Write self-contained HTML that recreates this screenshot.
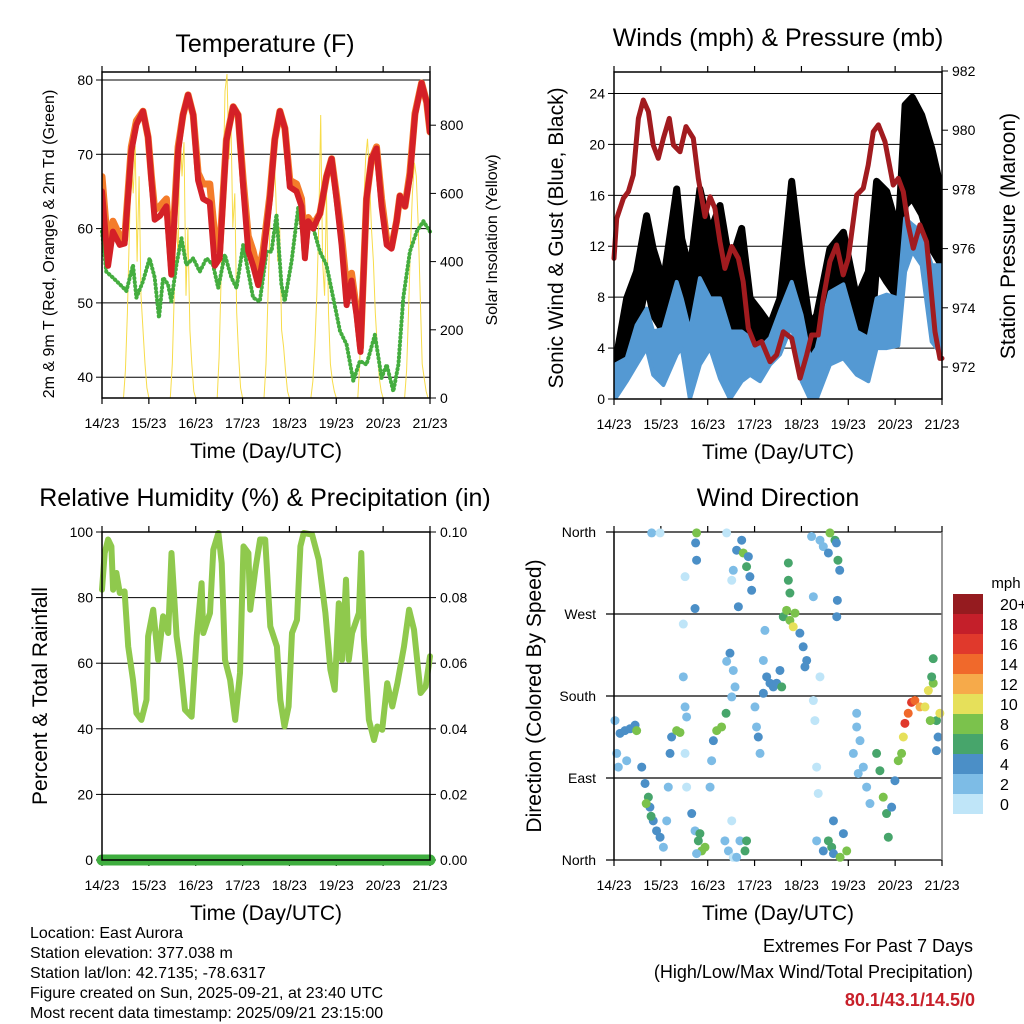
<!DOCTYPE html>
<html><head><meta charset="utf-8"><title>Station Meteogram</title>
<style>
html,body{margin:0;padding:0;background:#fff;}
svg{display:block;font-family:"Liberation Sans",Arial,sans-serif;}
</style></head>
<body>
<svg id="chart" width="1024" height="1024" viewBox="0 0 1024 1024" xmlns="http://www.w3.org/2000/svg">
<rect x="0" y="0" width="1024" height="1024" fill="#fff"/>
</svg>
<script>
// ---------- shared ----------
const dayLabels = ["14/23","15/23","16/23","17/23","18/23","19/23","20/23","21/23"];
// ---------- temperature ----------
const tHours = [0,3.1,5.6,9.1,11.6,15,17.6,21,23.6,25.3,27,29.6,33,35.5,39,41.5,44.1,46.7,49.2,51.8,55.2,57.8,60.3,63.7,67.2,69.7,72.3,74.9,77.4,80,82.5,86,88.5,91.1,93.7,96.2,99.6,102.2,103.9,105.6,108.2,111.6,115,117.6,120.1,122.7,125.3,127.8,130.4,132.4,135.5,138.1,140.6,143.2,145.8,148.3,150.9,152.6,155.2,157.7,160.3,163.7,166.3,168];
const tRed = [65,55,59.6,57.8,58,70.4,74,75.8,72.3,66.5,61.2,61.7,63,53.8,70.4,75.3,78,75.3,66.5,64,63.5,55,56,71.8,76.4,75.3,65.6,57,55,52.4,56,64,72,75.8,73.5,65.6,65,63,56,61,60,62,67,69.4,64,57.8,49.7,53,48.3,43.4,64,69.4,70.8,63,57.8,57.3,61,64.4,63,67,75.3,79.6,77,73];
const tOrange = [67,57,61,59,58.5,71,74.5,75.8,72.3,67,62.5,63,64,55,71,75.3,78,75.3,67.5,66,66,59,57,72,76.4,75.3,66.5,59,57,54,57,64.5,72,75.8,73.5,66.5,66,64,57,61.5,60.5,62,67,69.4,64.5,59,52,54,49,44,64,69.4,71,64,58.5,57.5,61,64.4,63,67.5,75.5,79.6,77,73];
const tdHours = [0,2.2,5.6,9.1,12.5,15.9,17.6,21,24.4,27,29.2,31.3,33.8,35.5,38.1,40.7,43.2,46.7,50.1,53.5,56.9,59.5,62.9,66.3,68.9,72.3,74.9,77.4,80.8,84.3,86.8,89.4,91.9,93.6,97.1,100.5,103,105.6,108.2,111.6,115,118.4,121.9,125.3,128.7,132.1,135.5,139.8,143.2,145.8,149.2,151.8,154.3,157.7,161.2,164.6,168];
const tDew = [59.6,54.2,53.4,52.5,51.6,55.1,50.7,52.9,56,53.4,48,53.4,52.5,50.2,55.1,58.7,55.1,56,54.2,56,55.1,52,56.5,53.4,52,57.8,54.2,50.7,50.2,56.9,56.9,61.9,52.5,50.2,55.6,62.8,58.7,61,60.1,56.9,55.1,50.7,46.2,44.4,39.5,42.2,41.7,45.7,39.9,41.7,38.1,41.7,50.7,56.9,59.6,61,59.6];
const solar = [
0,0,0,0,0,0,0,0,0,0,0, 0,80,250,480,700,600,740,400,650,300,200,100,30,
0,0,0,0,0,0,0,0,0,0,0, 0,100,300,550,400,800,650,750,300,500,200,100,20,
0,0,0,0,0,0,0,0,0,0,0, 0,120,350,600,900,950,700,820,500,600,250,120,30,
0,0,0,0,0,0,0,0,0,0,0, 0,100,300,500,700,730,600,400,500,200,150,80,20,
0,0,0,0,0,0,0,0,0,0,0, 0,50,150,300,500,830,400,300,600,250,100,50,20,
0,0,0,0,0,0,0,0,0,0,0, 0,100,300,550,700,760,650,500,400,250,150,60,20,
0,0,0,0,0,0,0,0,0,0,0, 0,80,250,450,600,690,650,500,300,100,60,20,0,
0];
const tempTicks = [40,50,60,70,80];
const solarTicks = [0,200,400,600,800];
// ---------- winds ----------
const wHours = [0.5,6.5,11.6,16.7,20.1,25.3,32.1,34.7,38.9,44.0,49.2,54.3,59.4,65.4,69.7,74.8,79.9,85.0,91.0,96.1,100.4,103.8,110.6,117.5,124.3,130.3,134.5,139.7,145.6,149.1,152.8,157.6,162.7,167.8];
const windHi = [2.7,3.2,5.8,7.1,5.3,5.5,9.2,7.9,5.3,9.5,7.9,7.9,5.3,5.3,4.8,4.0,4.8,6.9,9.2,6.6,3.2,4.0,8.4,9.0,5.3,4.8,7.9,8.2,7.9,14.2,13.7,13.1,10.5,10.5];
const windLo = [0,1.4,2.7,4,1.9,1.1,3.5,4,0,2.7,4,1.6,0,1.4,1.9,1.4,2.7,3.5,5.8,1.4,0,0,2.7,3.2,1.9,1.4,4,4,4.2,10,11.6,10.5,4.5,3.5];
const gustHi = [2.7,7.9,10,14.4,11.8,9.2,16.5,12.6,10,16.5,13.1,15.2,10.5,13.4,7.9,6.9,5.8,7.9,17.1,10.5,5.8,6.6,11.8,13.1,7.9,10,17.1,16.3,13.1,23.1,23.7,22.3,19.7,16.3];
const gustLo = [0.6,4,5.3,9.2,6.6,5.3,7.9,6.6,2.7,9.2,7.4,6.6,2.7,4,2.1,2.7,3.5,5.3,10.5,5.3,1.4,3.2,7.4,7.9,2.7,2.1,10.5,9.2,7.9,15.2,15.8,14.5,11.8,10.5];
const pHours = [0,1.4,4.8,7.3,9.9,12.5,15,17.6,20.1,22.7,25.3,28.3,30.4,33.8,36.9,40.6,43.2,46.6,49.2,51.7,54.3,56.8,60.3,63.7,66.2,68.8,72.2,75.6,79.9,83.3,86.7,91,95.3,98.7,101.2,104.6,107.2,110.6,114,117.4,120,124.3,127.7,130.2,132.8,135.4,138.8,143,145.6,148.2,150.7,153.3,156.7,160.1,164.4,166.9,168];
const pressure = [975.67,977.02,977.70,977.92,978.49,980.40,981.02,980.63,979.50,979.05,979.73,980.40,979.50,979.27,980.12,979.73,978.37,977.08,977.75,977.36,976.23,975.33,976.07,975.67,974.88,973.31,972.74,972.86,972.18,972.41,973.19,972.97,971.62,972.41,973.08,973.08,974.32,975.56,976.12,975.11,975.67,977.81,978.04,978.82,979.95,980.18,979.61,978.15,978.37,977.92,976.80,976.01,976.80,976.23,973.19,972.29,972.29];
const windTicks = [0,4,8,12,16,20,24];
const presTicks = [972,974,976,978,980,982];
// ---------- humidity ----------
const rhHours = [0,1.4,3.1,4.8,5.7,7.4,9.1,11.6,13.4,15.9,17.6,20.2,22.8,23.6,26.2,28.8,31.3,33.9,35.6,38.2,39.9,42.5,45.9,48.5,51,51.9,55.3,57,59.6,61.3,63,65.6,68.2,70.7,72.5,75,75.9,78.5,81,83.6,86.2,89.6,91.3,93.5,95.6,97.3,99.9,101.6,103.3,107.6,111,114.4,117,119.2,121.3,123,125,126.4,128.1,131.6,132.8,134.1,136.7,139.3,141,143.5,146.1,148.7,151.3,154.7,157.3,159.8,163.2,165.8,168];
const rh = [82.4,93.6,97.7,95.6,82.4,87.5,81.4,81.9,65.1,54.9,44.8,42.7,48.8,68.2,76.3,61,74.3,69.2,93.6,68.2,61,45.8,43.7,68.2,84.4,69.2,75.3,94.6,99.7,90.5,61,54.9,42.7,57,95.6,93.6,76.3,88.5,97.7,97.7,71.2,65.1,48.8,40.7,46.8,69.2,73.2,95.6,99.7,99.2,91.6,75.3,58,51.9,78.3,61,85.5,61,69.2,75.3,93.6,68.2,42.7,36.6,40.7,39.7,53.9,46.8,53.9,65.1,76.3,70.2,50.9,52.9,62.1];
const precipHours = [0,168];
const precip = [0,0];
const rhTicks = [0,20,40,60,80,100];
const precipTicks = ["0.00","0.02","0.04","0.06","0.08","0.10"];
// ---------- wind direction ----------
const dirHours = [0.5,3.1,5.6,8.2,10.8,1.4,2.2,6.5,11.6,14.2,15.9,17.6,18.4,20.1,21.8,23.6,25.3,16.5,19.0,19.3,23.6,
27,27.8,28.7,29.5,32.1,33.8,35.5,36.4,37.2,36.4,37.2,35.5,36.4,39.8,41.5,43.2,44.9,46.6,42.3,44,42.3,41.8,42.3,41.5,49.2,50,50.9,52.6,55.1,57.4,57.7,
56.8,58.6,61.1,60.3,57.7,62.8,65.4,66.2,67.9,69.6,70.5,68.8,61.1,60.3,63.7,59.4,61.1,62,60.3,64.5,67.1,67.9,62.8,
72.2,73,73.9,74.8,76.5,78.2,79.9,81.6,83.3,85,85.9,77.3,76.5,86.7,88.4,90.1,91.8,92.7,89.3,89.3,90.1,95.2,96.9,98.7,97.8,
101.2,102.1,102.1,102.9,103.8,104.6,105.5,105.5,107.2,109.8,110.6,113.2,113.9,114.7,115.6,114.4,114.1,103.8,107.2,109.8,111.5,112.4,115.8,119.2,117.5,112.4,
122.6,124.3,126,127.7,129.4,131.1,125.1,124.3,134.5,136.2,137.9,139.6,140.5,142.2,143.9,
145.6,147.3,148.2,149,150.7,152.4,154.1,156.7,159.3,161,163.5,162.7,163.5,165.2,166.9,166,165.2,162];
const dirDeg = [153,139,142,144,148,117,102,109,142,102,84,69,58,43,32,25,14,62,48,359,359,
43,80,117,135,142,140,201,168,157,117,80,259,311,51,32,21,10,14,7,29,359,348,329,276,80,109,131,142,146,161,218,
21,10,3,43,359,340,351,337,322,311,296,333,318,307,278,227,208,190,179,21,10,21,3,
168,146,135,117,183,201,194,190,194,208,190,252,219,267,274,263,256,271,307,326,293,249,234,219,212,
355,289,175,153,102,73,201,351,344,337,359,351,348,329,318,285,267,21,10,21,14,7,3,10,29,43,
117,146,131,102,80,62,95,161,117,98,69,51,25,58,87,
109,117,135,150,161,173,175,168,168,186,194,201,221,153,161,135,120,153];
const dirSpd = [3,5,5,5,5,3,3,3,9,5,5,7,5,5,5,5,3,9,7,3,1,
3,3,5,5,9,9,3,3,3,1,1,1,1,5,3,7,9,9,3,7,9,5,5,5,3,3,5,9,9,7,3,
3,3,1,1,1,5,5,9,7,5,5,5,3,1,5,5,3,3,3,3,7,7,3,
3,3,5,3,5,5,5,5,5,5,7,3,3,7,9,9,11,9,7,7,7,5,5,5,5,
3,3,1,1,1,1,1,3,3,5,9,7,5,7,5,5,5,3,5,7,7,5,9,9,5,5,
3,3,3,3,3,3,3,3,7,7,9,7,7,5,5,
9,9,11,17,15,17,15,13,11,11,9,7,7,7,11,5,5,9];
const speedLabels = ["0","2","4","6","8","10","12","14","16","18","20+"];
const speedColors = ["#bfe5f8","#7dbce6","#4b8fc7","#47a56b","#7bc24c","#e6e05a","#f6aa4a","#f0692b","#e0392c","#c41f2a","#951b1f"];
const dirTicks = [0,90,180,270,360];
const dirLabels = ["North","East","South","West","North"];

// ---------- helpers ----------
const NS = "http://www.w3.org/2000/svg";
const svg = document.getElementById('chart');
function mk(tag, attrs, parent){
  const e = document.createElementNS(NS, tag);
  for (const k in attrs) e.setAttribute(k, attrs[k]);
  (parent||svg).appendChild(e);
  return e;
}
function txt(str, x, y, size, anchor, parent, extra){
  const t = mk('text', Object.assign({x:x, y:y, 'font-size':size, 'text-anchor':anchor||'middle', fill:'#000'}, extra||{}), parent);
  t.textContent = str;
  return t;
}
function ptsStr(xs, ys){ return xs.map((v,i)=>v.toFixed(1)+','+ys[i].toFixed(1)).join(' '); }

const L0 = 102, R0 = 614, PW = 328;
const xL = h => L0 + h*PW/168;
const xR = h => R0 + h*PW/168;
const yTemp = v => 398 - (v-37.2)*7.43;
const ySolar = w => 398 - w*0.341;
const yWind = m => 399 - m*12.73;
const yPres = p => 71 + (982-p)*29.6;
const yRH = v => 860 - v*3.28;
const yPrecip = p => 860 - p*3280;
const yDir = d => 860 - d*328/360;

function frame(x0, y0, y1, name){
  const g = mk('g', {});
  
  
  const xt = mk('g', {}, g);
  
  
  dayLabels.forEach((lab,i)=>{
    const x = x0 + i*PW/7;
    mk('line',{x1:x,x2:x,y1:y1,y2:y1+6,stroke:'#000','stroke-width':1.2},xt);
    mk('line',{x1:x,x2:x,y1:y0,y2:y0-6,stroke:'#000','stroke-width':1.2},xt);
    const t = txt(lab, x, y1+30, 14, 'middle', xt);
    
    
  });
  const tt = txt('Time (Day/UTC)', x0+PW/2, y1+60, 21, 'middle', g);
  
  
  return g;
}
function box(x0,y0,y1,parent){
  mk('rect',{x:x0,y:y0,width:PW,height:y1-y0,fill:'none',stroke:'#000','stroke-width':1.5},parent);
}

// ================= Panel 1: Temperature =================
(function(){
  const g = frame(L0, 72, 398, 'temperature');
  tempTicks.forEach(v=>{
    const y = yTemp(v);
    mk('line',{x1:L0,x2:L0+PW,y1:y,y2:y,stroke:'#000','stroke-width':1},g);
    mk('line',{x1:L0-6,x2:L0,y1:y,y2:y,stroke:'#000','stroke-width':1},g);
    const t = txt(String(v), L0-9, y+5, 14, 'end', g);
    
    
  });
  solarTicks.forEach(v=>{
    const y = ySolar(v);
    mk('line',{x1:L0+PW,x2:L0+PW+6,y1:y,y2:y,stroke:'#000','stroke-width':1},g);
    const t = txt(String(v), L0+PW+10, y+5, 14, 'start', g);
    
    
  });
  const clip = mk('clipPath',{id:'c1'});
  mk('rect',{x:L0,y:72,width:PW,height:326},clip);
  const sol = mk('polyline',{points:ptsStr(solar.map((v,i)=>xL(i)), solar.map(ySolar)),fill:'none',stroke:'#f7dc4a','stroke-width':1,'clip-path':'url(#c1)'},g);
  
  
  const dew = mk('polyline',{points:ptsStr(tdHours.map(xL), tDew.map(yTemp)),fill:'none',stroke:'#44ad3f','stroke-width':4,'stroke-linecap':'round','stroke-linejoin':'round','stroke-dasharray':'0.5 3.5'},g);
  
  
  const or = mk('polyline',{points:ptsStr(tHours.map(xL), tOrange.map(yTemp)),fill:'none',stroke:'#f47c2a','stroke-width':7,'stroke-linejoin':'round','stroke-linecap':'round','clip-path':'url(#c1)'},g);
  
  
  const rd = mk('polyline',{points:ptsStr(tHours.map(xL), tRed.map(yTemp)),fill:'none',stroke:'#d42027','stroke-width':6,'stroke-linejoin':'round','stroke-linecap':'round','clip-path':'url(#c1)'},g);
  
  
  box(L0,72,398,g);
  const t1 = txt('Temperature (F)', L0+PW/2-1, 52, 25, 'middle', g);
  
  
  const yl = txt('2m & 9m T (Red, Orange) & 2m Td (Green)', 0, 0, 16, 'middle', g, {transform:'translate(54,244) rotate(-90)'});
  
  
  const yr = txt('Solar Insolation (Yellow)', 0, 0, 16, 'middle', g, {transform:'translate(497,240) rotate(-90)'});
  
  
})();

// ================= Panel 2: Winds & Pressure =================
(function(){
  const g = frame(R0, 72, 399, 'winds');
  windTicks.forEach(v=>{
    const y = yWind(v);
    if (v>0) mk('line',{x1:R0,x2:R0+PW,y1:y,y2:y,stroke:'#000','stroke-width':1},g);
    mk('line',{x1:R0-6,x2:R0,y1:y,y2:y,stroke:'#000','stroke-width':1},g);
    const t = txt(String(v), R0-9, y+5, 14, 'end', g);
    
    
  });
  presTicks.forEach(v=>{
    const y = yPres(v);
    mk('line',{x1:R0+PW,x2:R0+PW+6,y1:y,y2:y,stroke:'#000','stroke-width':1},g);
    const t = txt(String(v), R0+PW+10, y+5, 14, 'start', g);
    
    
  });
  const clip = mk('clipPath',{id:'c2'});
  mk('rect',{x:R0,y:72,width:PW,height:327},clip);
  const gustPts = ptsStr(wHours.map(xR).concat(wHours.map(xR).reverse()), gustHi.map(yWind).concat(gustLo.map(yWind).reverse()));
  const gu = mk('polygon',{points:gustPts,fill:'#000',stroke:'#000','stroke-width':7,'stroke-linejoin':'round','clip-path':'url(#c2)'},g);
  
  
  const windPts = ptsStr(wHours.map(xR).concat(wHours.map(xR).reverse()), windHi.map(yWind).concat(windLo.map(yWind).reverse()));
  const wi = mk('polygon',{points:windPts,fill:'#5499d3',stroke:'#5499d3','stroke-width':4,'stroke-linejoin':'round','clip-path':'url(#c2)'},g);
  
  
  const pr = mk('polyline',{points:ptsStr(pHours.map(xR), pressure.map(yPres)),fill:'none',stroke:'#a11b1f','stroke-width':5,'stroke-linejoin':'round','stroke-linecap':'round'},g);
  
  
  box(R0,72,399,g);
  const t1 = txt('Winds (mph) & Pressure (mb)', R0+PW/2, 46, 25, 'middle', g);
  
  
  const yl = txt('Sonic Wind & Gust (Blue, Black)', 0, 0, 21, 'middle', g, {transform:'translate(563,238) rotate(-90)'});
  
  
  const yr = txt('Station Pressure (Maroon)', 0, 0, 21, 'middle', g, {transform:'translate(1015,236) rotate(-90)'});
  
  
})();

// ================= Panel 3: RH & Precip =================
(function(){
  const g = frame(L0, 532, 860, 'humidity');
  rhTicks.forEach((v,i)=>{
    const y = yRH(v);
    if (v>0 && v<100) mk('line',{x1:L0,x2:L0+PW,y1:y,y2:y,stroke:'#000','stroke-width':1},g);
    mk('line',{x1:L0-6,x2:L0,y1:y,y2:y,stroke:'#000','stroke-width':1},g);
    mk('line',{x1:L0+PW,x2:L0+PW+6,y1:y,y2:y,stroke:'#000','stroke-width':1},g);
    const t = txt(String(v), L0-9, y+5, 14, 'end', g);
    
    
    const t2 = txt(precipTicks[i], L0+PW+10, y+5, 14, 'start', g);
    
    
  });
  const rl = mk('polyline',{points:ptsStr(rhHours.map(xL), rh.map(yRH)),fill:'none',stroke:'#8fc94d','stroke-width':6,'stroke-linejoin':'round','stroke-linecap':'round'},g);
  
  
  const pl = mk('polyline',{points:ptsStr(precipHours.map(xL), precip.map(yPrecip)),fill:'none',stroke:'#3fae3f','stroke-width':11,'stroke-linecap':'round'},g);
  
  
  box(L0,532,860,g);
  const t1 = txt('Relative Humidity (%) & Precipitation (in)', L0+PW/2-1, 506, 25, 'middle', g);
  
  
  const yl = txt('Percent & Total Rainfall', 0, 0, 21, 'middle', g, {transform:'translate(47,696) rotate(-90)'});
  
  
})();

// ================= Panel 4: Wind Direction =================
(function(){
  const g = frame(R0, 532, 860, 'wind-direction');
  dirTicks.forEach((v,i)=>{
    const y = yDir(v);
    mk('line',{x1:R0-8,x2:R0+PW,y1:y,y2:y,stroke:'#000','stroke-width':1.2},g);
    const t = txt(dirLabels[i], R0-18, y+5, 14, 'end', g);
    
    
  });
  const dots = mk('g',{},g);
  
  
  dirHours.forEach((h,i)=>{
    const idx = Math.min(10, Math.floor(dirSpd[i]/2));
    const c = mk('circle',{cx:xR(h),cy:yDir(dirDeg[i]),r:4.5,fill:speedColors[idx]},dots);
    
    
  });
  mk('line',{x1:R0,x2:R0,y1:532,y2:860,stroke:'#000','stroke-width':1.5},g);
  mk('line',{x1:R0+PW,x2:R0+PW,y1:532,y2:860,stroke:'#777','stroke-width':1.5},g);
  const t1 = txt('Wind Direction', R0+PW/2, 506, 25, 'middle', g);
  
  
  const yl = txt('Direction (Colored By Speed)', 0, 0, 21, 'middle', g, {transform:'translate(541,696) rotate(-90)'});
  
  
  const cb = mk('g',{},svg);
  
  
  const ct = txt('mph', 1006, 588, 15, 'middle', cb);
  
  
  speedLabels.forEach((lab,i)=>{
    const k = 10 - i;
    const y = 594 + k*20;
    mk('rect',{x:953,y:y,width:30,height:20,fill:speedColors[i]},cb);
    const t = txt(lab, 1000, y+16, 16, 'start', cb);
    
    
  });
})();

// ================= Footer text =================
(function(){
  const g = mk('g',{});
  
  
  const lines = ['Location: East Aurora','Station elevation: 377.038 m','Station lat/lon: 42.7135; -78.6317','Figure created on Sun, 2025-09-21, at 23:40 UTC','Most recent data timestamp: 2025/09/21 23:15:00'];
  lines.forEach((s,i)=>{
    const t = txt(s, 30, 938+i*20, 16, 'start', g);
    
    
  });
  const e = mk('g',{});
  
  
  const a = txt('Extremes For Past 7 Days', 973, 952, 18, 'end', e);
  
  
  const b = txt('(High/Low/Max Wind/Total Precipitation)', 973, 978, 18, 'end', e);
  
  
  const c = txt('80.1/43.1/14.5/0', 975, 1006, 18, 'end', e, {fill:'#c8202a','font-weight':'bold'});
  
  
})();
</script>
</body></html>
